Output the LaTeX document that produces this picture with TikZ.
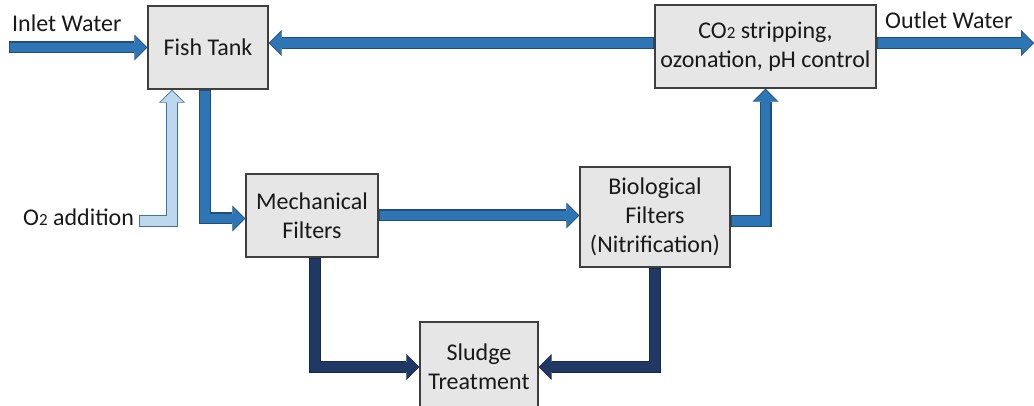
\documentclass[tikz,border=0pt]{standalone}
\usepackage{fontspec}
\setmainfont{Carlito}
\usepackage{tikz}
\usetikzlibrary{arrows.meta,calc}
\usepackage{xcolor}

\definecolor{boxfill}{HTML}{E7E6E6}
\definecolor{boxline}{HTML}{3F3F3F}
\definecolor{flowfill}{HTML}{2E75B6}
\definecolor{flowedge}{HTML}{1F4E79}
\definecolor{sludgefill}{HTML}{203864}
\definecolor{sludgeedge}{HTML}{16284A}
\definecolor{airfill}{HTML}{BDD7EE}
\definecolor{airedge}{HTML}{41719C}

\tikzset{
  unit/.style={draw=boxline, fill=boxfill, line width=1.3pt, align=center,
    inner sep=1pt, text=black!90, font=\fontsize{24}{29}\selectfont},
  tag/.style={anchor=base west, inner sep=0pt, text=black!90,
    font=\fontsize{24}{29}\selectfont},
  pipeout/.style={draw=#1, line width=12pt, line join=miter,
    -{Triangle[length=13pt,width=26pt,line width=0pt]}},
  pipein/.style={draw=#1, line width=9.6pt, line join=miter,
    shorten >=1.3pt, shorten <=1.2pt,
    -{Triangle[length=11pt,width=22.5pt,line width=0pt]}}
}
\newcommand{\flowpipe}[3]{%
  \draw[pipeout=#1] #3;
  \draw[pipein=#2] #3;
}
\newcommand{\sub}[1]{{\fontsize{17}{17}\selectfont #1}}

\begin{document}
\begin{tikzpicture}[x=1pt,y=-1pt]
    \useasboundingbox (0,0) rectangle (1034,406);

    % process units
    \node[unit, minimum width=120pt, minimum height=83pt] (ft) at (208,47.5) {Fish Tank};
    \node[unit, minimum width=221pt, minimum height=83pt] (co) at (765.5,46.5)
      {CO\sub{2} stripping,\\ozonation, pH control};
    \node[unit, minimum width=132pt, minimum height=83pt] (mf) at (312,215.5) {Mechanical\\Filters};
    \node[unit, minimum width=150pt, minimum height=100pt] (bf) at (655,217)
      {Biological\\Filters\\(Nitrification)};
    \node[unit, minimum width=118pt, minimum height=90pt] (st) at (479,367) {Sludge\\Treatment};

    % labels
    \node[tag] (inlet) at (12,32) {Inlet Water};
    \node[tag] (outlet) at (885,29) {Outlet Water};
    \node[tag] (o2) at (23,226) {O\sub{2} addition};

    \coordinate (inl) at (9,47.5);
    \coordinate (outl) at (1034,43);
    \coordinate (o2in) at (139,221);

    % water loop
    \flowpipe{flowedge}{flowfill}{(inl) -- (ft.west)}
    \flowpipe{flowedge}{flowfill}{([yshift=3.5pt]co.west) -- ([yshift=3.5pt]co.west -| ft.east)}
    \flowpipe{flowedge}{flowfill}{([yshift=3.5pt]co.east) -- (outl)}
    \flowpipe{flowedge}{flowfill}{([xshift=-3pt]ft.south) |- ([yshift=-3pt]mf.west)}
    \flowpipe{flowedge}{flowfill}{(mf.east) -- (mf.east -| bf.west)}
    \flowpipe{flowedge}{flowfill}{([yshift=-4pt]bf.east) -| (co.south)}

    % oxygen
    \flowpipe{airedge}{airfill}{(o2in) -| ([xshift=-36pt]ft.south)}

    % sludge
    \flowpipe{sludgeedge}{sludgefill}{([xshift=3pt]mf.south) |- (st.west)}
    \flowpipe{sludgeedge}{sludgefill}{(bf.south) |- (st.east)}
  \end{tikzpicture}
\end{document}
